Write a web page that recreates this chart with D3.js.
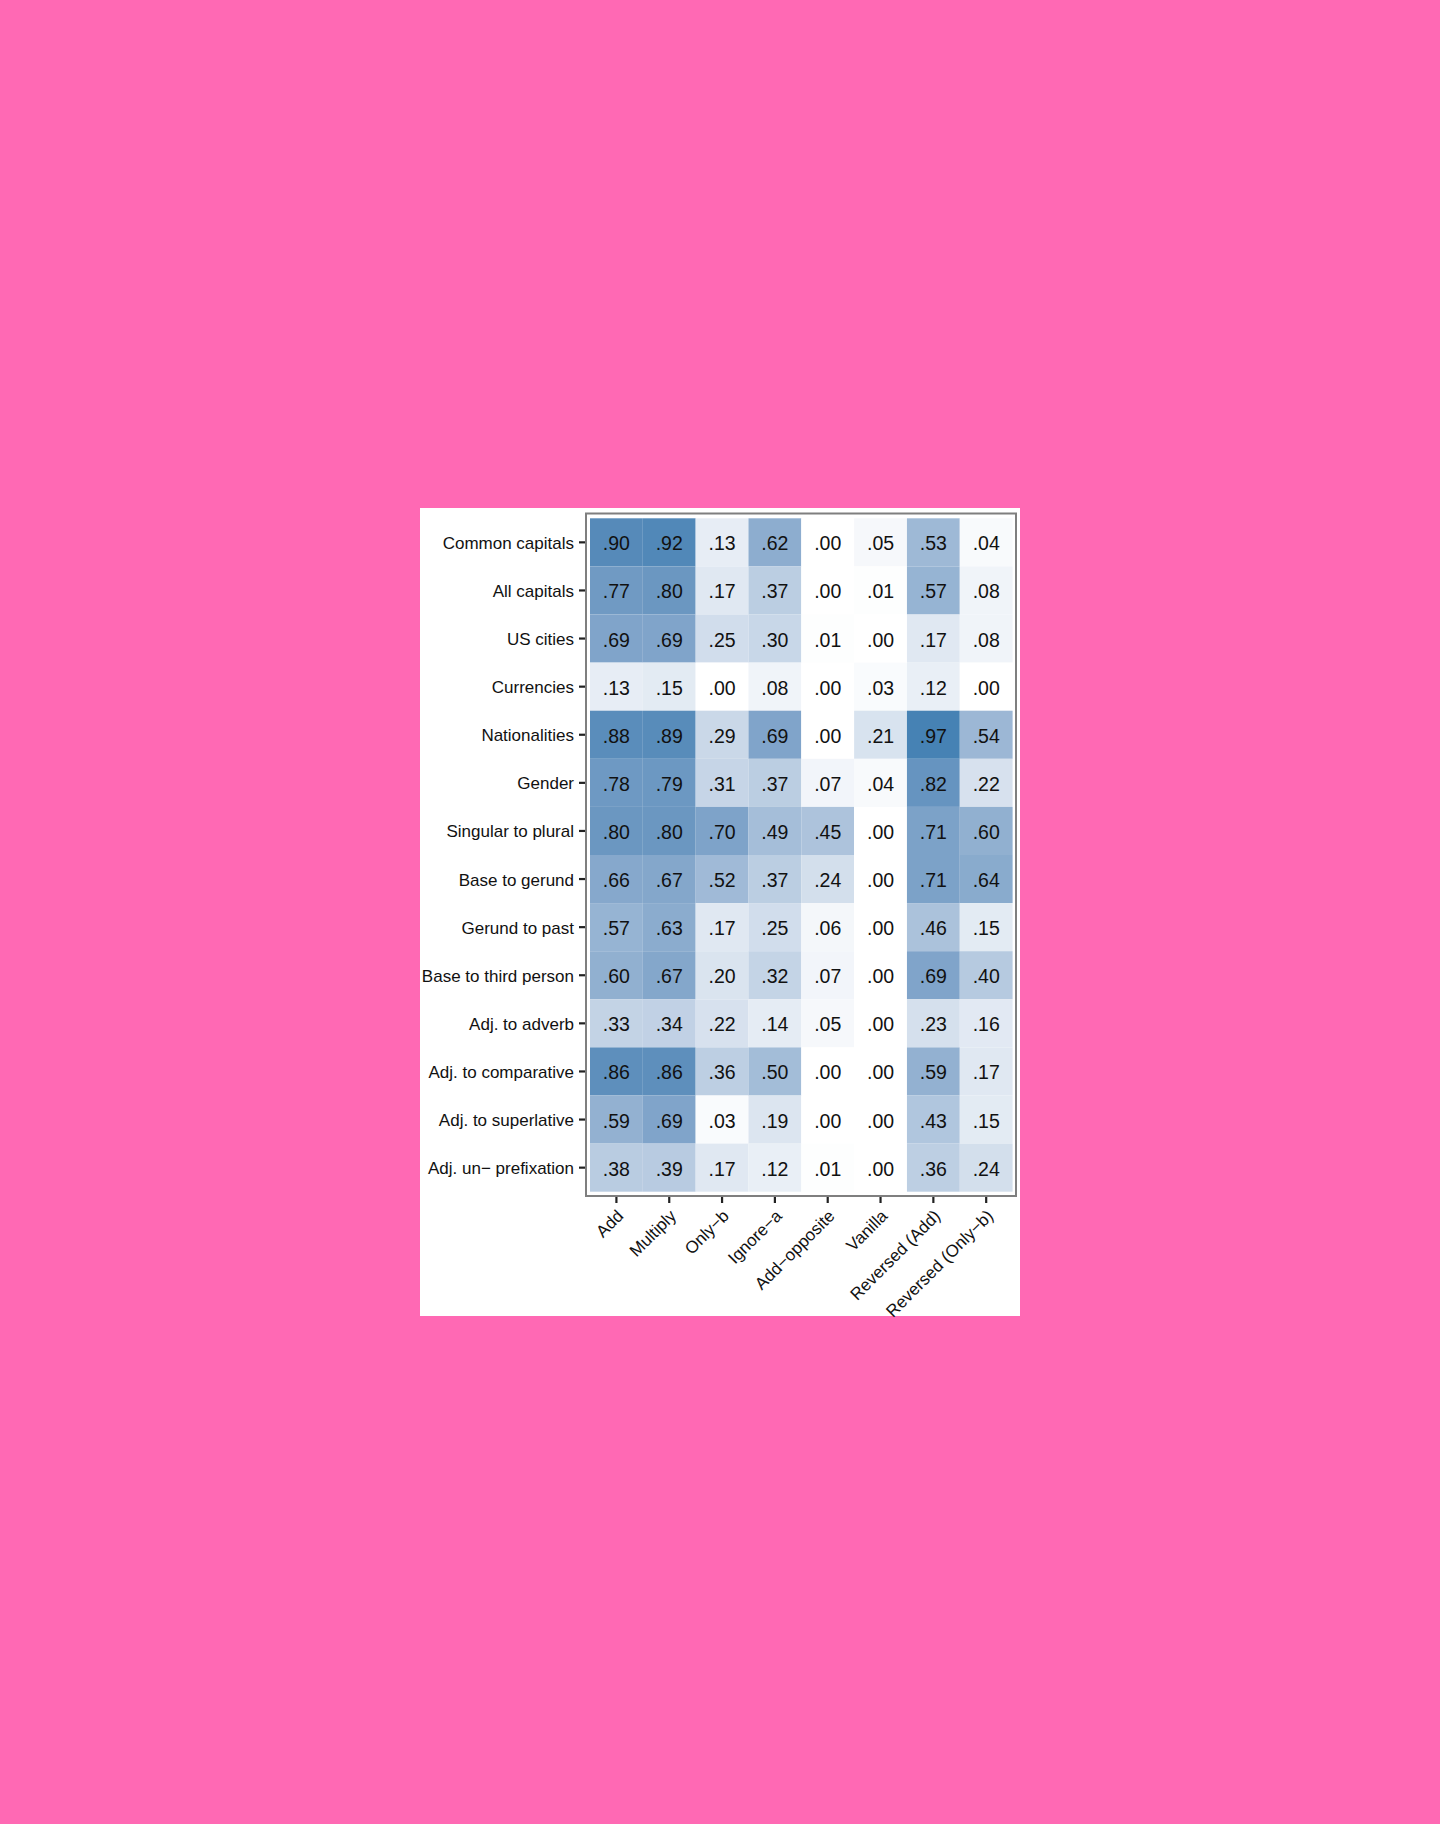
<!DOCTYPE html>
<html>
<head>
<meta charset="utf-8">
<script src="https://cdn.jsdelivr.net/npm/d3@7"></script>
<style>
  html, body { margin: 0; padding: 0; background: #ff69b4; }
  svg { display: block; }
  text { font-family: "Liberation Sans", Arial, Helvetica, sans-serif; }
</style>
</head>
<body>
<script>
// ---- data ----
const tasks = ["Common capitals", "All capitals", "US cities", "Currencies", "Nationalities", "Gender",
  "Singular to plural", "Base to gerund", "Gerund to past", "Base to third person", "Adj. to adverb",
  "Adj. to comparative", "Adj. to superlative", "Adj. un\u2212 prefixation"];
const methods = ["Add", "Multiply", "Only\u2212b", "Ignore\u2212a", "Add\u2212opposite", "Vanilla",
  "Reversed (Add)", "Reversed (Only\u2212b)"];
const addVals        = [.90, .77, .69, .13, .88, .78, .80, .66, .57, .60, .33, .86, .59, .38];
const multiplyVals   = [.92, .80, .69, .15, .89, .79, .80, .67, .63, .67, .34, .86, .69, .39];
const onlyBVals      = [.13, .17, .25, .00, .29, .31, .70, .52, .17, .20, .22, .36, .03, .17];
const ignoreAVals    = [.62, .37, .30, .08, .69, .37, .49, .37, .25, .32, .14, .50, .19, .12];
const addOppVals     = [.00, .00, .01, .00, .00, .07, .45, .24, .06, .07, .05, .00, .00, .01];
const vanillaVals    = [.05, .01, .00, .03, .21, .04, .00, .00, .00, .00, .00, .00, .00, .00];
const revAddVals     = [.53, .57, .17, .12, .97, .82, .71, .71, .46, .69, .23, .59, .43, .36];
const revOnlyBVals   = [.04, .08, .08, .00, .54, .22, .60, .64, .15, .40, .16, .17, .15, .24];
const seriesByMethod = [addVals, multiplyVals, onlyBVals, ignoreAVals, addOppVals, vanillaVals, revAddVals, revOnlyBVals];

const cells = [];
methods.forEach((m, j) => tasks.forEach((t, i) => cells.push({ method: m, task: t, value: seriesByMethod[j][i] })));

// ---- layout ----
const W = 1440, H = 1824;
const svg = d3.select("body").append("svg").attr("width", W).attr("height", H);
svg.append("rect").attr("x", 0).attr("y", 0).attr("width", W).attr("height", H).attr("fill", "#ff69b4");
svg.append("rect").attr("x", 420).attr("y", 508).attr("width", 600).attr("height", 808).attr("fill", "#ffffff");

const panel = { x0: 586, x1: 1016, y0: 513.5, y1: 1196 };
const x = d3.scaleBand().domain(methods).range([590, 1012.6]);
const y = d3.scaleBand().domain(tasks).range([518.3, 1191.7]);
const maxV = d3.max(cells, d => d.value);
const color = d3.scaleLinear().domain([0, maxV]).range(["#ffffff", "steelblue"]).interpolate(d3.interpolateLab);
const fmt = v => d3.format(".2f")(v).replace(/^0/, "");

// tiles
svg.append("g").selectAll("rect").data(cells).join("rect")
  .attr("x", d => x(d.method)).attr("y", d => y(d.task))
  .attr("width", x.bandwidth()).attr("height", y.bandwidth())
  .attr("fill", d => color(d.value));

// values
svg.append("g").selectAll("text").data(cells).join("text")
  .attr("x", d => x(d.method) + x.bandwidth() / 2)
  .attr("y", d => y(d.task) + y.bandwidth() / 2 + 1)
  .attr("dy", "0.36em")
  .attr("text-anchor", "middle")
  .attr("font-size", 19.5)
  .attr("fill", "#111")
  .text(d => fmt(d.value));

// panel border
svg.append("rect").attr("x", panel.x0).attr("y", panel.y0)
  .attr("width", panel.x1 - panel.x0).attr("height", panel.y1 - panel.y0)
  .attr("fill", "none").attr("stroke", "#7f7f7f").attr("stroke-width", 2);

// y axis
const yAxis = d3.axisLeft(y).tickSize(6).tickPadding(5);
const gy = svg.append("g").attr("transform", `translate(${panel.x0 - 1},0)`).call(yAxis);
gy.select(".domain").remove();
gy.selectAll(".tick line").attr("stroke", "#222").attr("stroke-width", 2.2);
gy.selectAll(".tick text").attr("font-size", 17).attr("fill", "#111")
  .attr("font-family", "Liberation Sans, Arial, sans-serif")
  .attr("y", 1);

// x axis
const xAxis = d3.axisBottom(x).tickSize(6).tickPadding(0);
const gx = svg.append("g").attr("transform", `translate(0,${panel.y1 + 1})`).call(xAxis);
gx.select(".domain").remove();
gx.selectAll(".tick line").attr("stroke", "#222").attr("stroke-width", 2.2);
gx.selectAll(".tick text")
  .attr("font-size", 17).attr("fill", "#111")
  .attr("font-family", "Liberation Sans, Arial, sans-serif")
  .attr("text-anchor", "end")
  .attr("x", 0).attr("y", 0).attr("dy", null)
  .attr("transform", "translate(8,20) rotate(-45)");
</script>
</body>
</html>
